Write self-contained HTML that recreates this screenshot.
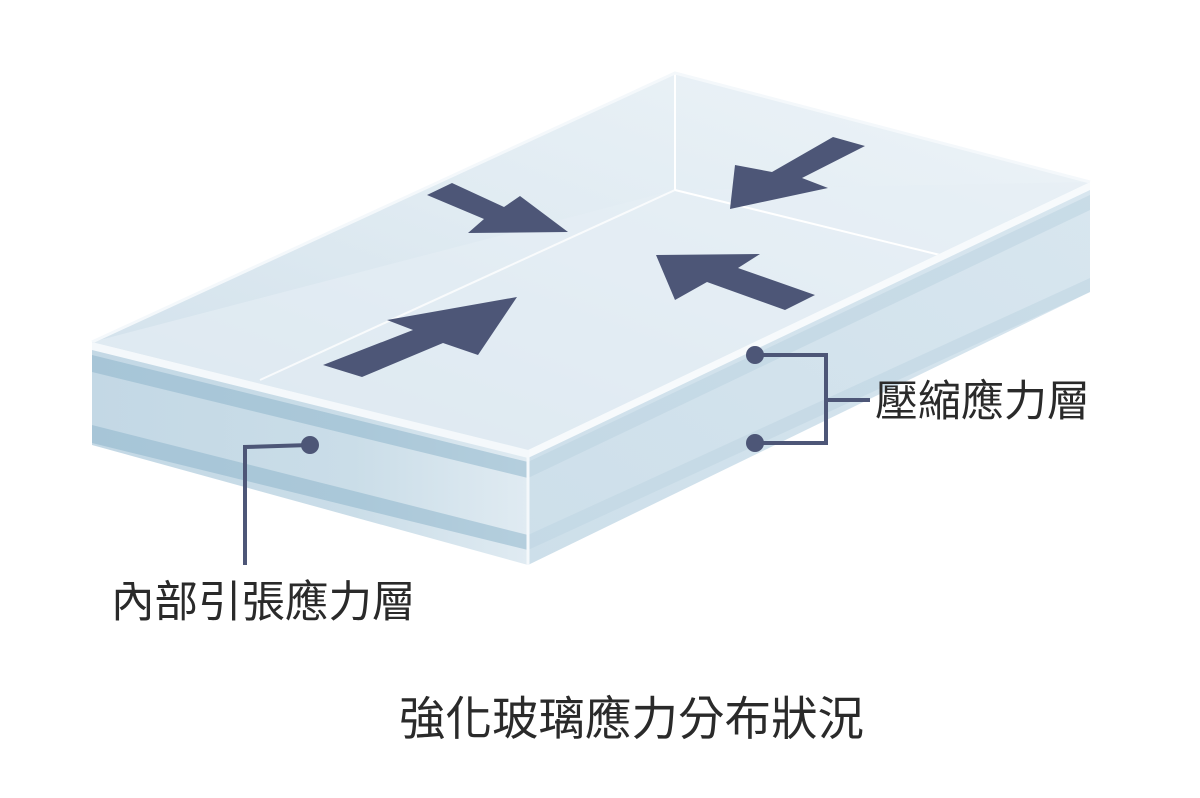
<!DOCTYPE html>
<html><head><meta charset="utf-8"><style>
html,body{margin:0;padding:0;background:#fff;width:1200px;height:798px;overflow:hidden}
svg{display:block}
text{font-family:"Liberation Sans","Noto Sans CJK TC",sans-serif;fill:#2a2a2a}
</style></head><body>
<svg width="1200" height="798" viewBox="0 0 1200 798">
<defs>
<linearGradient id="top" x1="0" y1="1" x2="1" y2="0">
<stop offset="0" stop-color="#cfdfea"/><stop offset="0.5" stop-color="#e0ebf2"/><stop offset="1" stop-color="#eef4f8"/></linearGradient>
<linearGradient id="front" x1="0" y1="0" x2="1" y2="0">
<stop offset="0" stop-color="#c3d8e5"/><stop offset="0.6" stop-color="#cadde8"/><stop offset="1" stop-color="#e0ebf2"/></linearGradient>
<linearGradient id="right" x1="0" y1="1" x2="1" y2="0">
<stop offset="0" stop-color="#cddfea"/><stop offset="1" stop-color="#d8e6ef"/></linearGradient>
</defs>
<polygon points="92,342 675,73 675,190 528,240" fill="#d8e5ee" opacity="0.6"/>
<polygon points="675,73 1090,182 1090,230 675,190" fill="#cadbe7" opacity="0.8"/>
<polygon points="92,342 675,73 1090,182 528,450" fill="url(#top)"/>
<polygon points="675,190 1090,182 528,450 92,342" fill="#e6eff5" opacity="0.6"/>
<line x1="675" y1="73" x2="675" y2="190" stroke="#fff" stroke-width="2"/>
<line x1="675" y1="190" x2="940" y2="255" stroke="#fff" stroke-width="2"/>
<line x1="675" y1="190" x2="260" y2="380" stroke="#fff" stroke-width="2" opacity="0.8"/>
<polyline points="92,342 675,73 1090,182" fill="none" stroke="#f4f8fb" stroke-width="3"/>
<polygon points="92,342 528,450 528,565 92,445" fill="url(#front)"/>
<polygon points="92,355 528,462 528,478 92,372" fill="#8fb6cc" opacity="0.55"/>
<polygon points="92,425 528,535 528,550 92,443" fill="#8fb6cc" opacity="0.55"/>
<polygon points="92,342 528,450 528,458 92,350" fill="#f4f8fb"/>
<polygon points="528,450 1090,182 1090,292 528,565" fill="url(#right)"/>
<polygon points="528,462 1090,195 1090,210 528,478" fill="#b9d1e0" opacity="0.5"/>
<polygon points="528,535 1090,278 1090,292 528,550" fill="#c0d6e3" opacity="0.6"/>
<polygon points="528,450 1090,182 1090,190 528,458" fill="#f7fafc"/>
<line x1="528" y1="450" x2="528" y2="565" stroke="#f4f8fb" stroke-width="3"/>
<g fill="#4d5677">
<polygon points="427,195 452,183 504,207 520,196 568,232 468,233 484,219"/>
<polygon points="865,146 833,137 772,172 735,165 730,209 828,188 802,178"/>
<polygon points="656,255 675,300 707,282 785,310 815,295 738,268 760,254"/>
<polygon points="517,297 478,355 443,343 362,377 323,365 413,330 387,320"/>
</g>
<g stroke="#4d5677" stroke-width="4" fill="none">
<polyline points="310,445 245,447 245,565"/>
<polyline points="755,355 826,355 826,443 755,443"/>
<line x1="826" y1="400" x2="870" y2="400"/>
</g>
<g fill="#4d5677"><circle cx="310" cy="445" r="9"/><circle cx="755" cy="355" r="9"/><circle cx="755" cy="443" r="9"/></g>
<text x="875" y="416" font-size="43">壓縮應力層</text>
<text x="111" y="617" font-size="43.5">內部引張應力層</text>
<text x="399" y="735" font-size="46.5">強化玻璃應力分布狀況</text>
</svg>
</body></html>
